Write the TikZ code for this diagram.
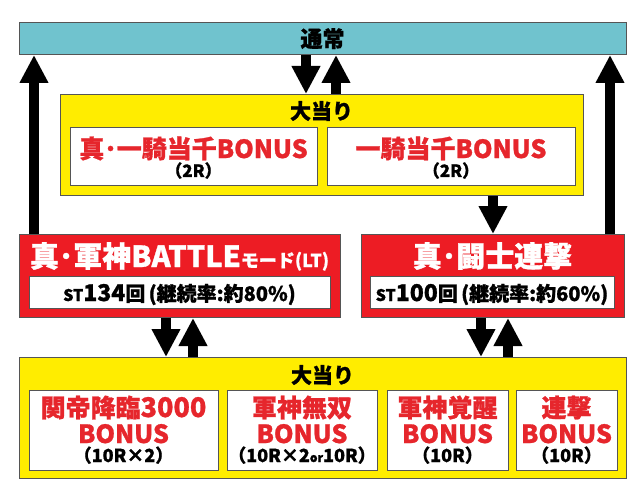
\documentclass[tikz,border=0pt]{standalone}
\usepackage{fontspec}
\newfontfamily\jp{Noto Sans CJK JP}[BoldFeatures={FakeBold=1}]
\usetikzlibrary{arrows.meta}

\definecolor{tsujocyan}{HTML}{70C3CE}
\definecolor{hityellow}{HTML}{FFED00}
\definecolor{modered}{HTML}{ED1C24}
\definecolor{bonusred}{HTML}{E6262C}
\definecolor{boxline}{HTML}{555555}

\newcommand{\fs}[1]{\fontsize{#1}{#1}\selectfont}

\begin{document}
\begin{tikzpicture}[x=1pt,y=-1pt,
  every node/.style={inner sep=0pt,font=\jp\bfseries},
  framebox/.style={draw=boxline,line width=1pt,anchor=north west},
  txt/.style={anchor=base},
  bigarrow/.style={line width=10pt,-{Triangle[width=27pt,length=28pt]}}]
\useasboundingbox (0,0) rectangle (640,500);

% normal mode
\node[framebox,fill=tsujocyan,minimum width=607pt,minimum height=32pt] (tsujo) at (19,22) {};
\node[txt] (tsujot) at (322.5,47) {\fs{22}通常};

% first jackpot
\node[framebox,fill=hityellow,minimum width=523pt,minimum height=101pt] (hitA) at (60,94) {};
\node[txt] (hitAt) at (321.5,119) {\fs{21}大当り};
\node[framebox,fill=white,minimum width=247pt,minimum height=58pt] (ikkiA) at (70,127) {};
\node[framebox,fill=white,minimum width=248pt,minimum height=58pt] (ikkiB) at (327,127) {};
\node[txt,bonusred] (ikkiAt) at (193.5,158) {\fs{25}真･一騎当千BONUS};
\node[txt] (ikkiAr) at (193.5,177) {\fs{17}（2R）};
\node[txt,bonusred] (ikkiBt) at (451,158) {\fs{25}一騎当千BONUS};
\node[txt] (ikkiBr) at (451,177) {\fs{17}（2R）};

% ST modes
\node[framebox,fill=modered,minimum width=321pt,minimum height=83pt] (battle) at (19,234) {};
\node[txt,white] (battlet) at (179.5,267) {\fs{29}真･軍神BATTLE\fs{18}モード(LT)};
\node[framebox,fill=white,minimum width=301pt,minimum height=32pt] (battlest) at (29,276) {};
\node[txt] (battlesp) at (179.5,301) {\fs{16}ST\fs{23}134\fs{20}回\,(継続率:約80\%)};

\node[framebox,fill=modered,minimum width=263pt,minimum height=83pt] (toshi) at (361,234) {};
\node[txt,white] (toshit) at (492.5,267) {\fs{29}真･闘士連撃};
\node[framebox,fill=white,minimum width=244pt,minimum height=32pt] (toshist) at (370,276) {};
\node[txt] (toshisp) at (492,301) {\fs{16}ST\fs{23}100\fs{20}回\,(継続率:約60\%)};

% second jackpot
\node[framebox,fill=hityellow,minimum width=607pt,minimum height=121pt] (hitB) at (19,357) {};
\node[txt] (hitBt) at (322.5,383) {\fs{21}大当り};
\node[framebox,fill=white,minimum width=189pt,minimum height=80pt] (kantei) at (29,390) {};
\node[framebox,fill=white,minimum width=150pt,minimum height=80pt] (muso) at (227,390) {};
\node[framebox,fill=white,minimum width=121pt,minimum height=80pt] (kakusei) at (387,390) {};
\node[framebox,fill=white,minimum width=101pt,minimum height=80pt] (rengeki) at (516,390) {};

\node[txt,bonusred] (kanteit) at (123.5,417) {\fs{25}関帝降臨\fs{27}3000};
\node[txt,bonusred] (kanteib) at (123.5,443) {\fs{25}BONUS};
\node[txt] (kanteir) at (123.5,462) {\fs{18}（10R×2）};
\node[txt,bonusred] (musot) at (302,417) {\fs{25}軍神無双};
\node[txt,bonusred] (musob) at (302,443) {\fs{25}BONUS};
\node[txt] (musor) at (302,462) {\fs{18}（10R×2\fs{12}or\fs{18}10R）};
\node[txt,bonusred] (kakuseit) at (447.5,417) {\fs{25}軍神覚醒};
\node[txt,bonusred] (kakuseib) at (447.5,443) {\fs{25}BONUS};
\node[txt] (kakuseir) at (447.5,462) {\fs{18}（10R）};
\node[txt,bonusred] (rengekit) at (566.5,417) {\fs{25}連撃};
\node[txt,bonusred] (rengekib) at (566.5,443) {\fs{25}BONUS};
\node[txt] (rengekir) at (566.5,462) {\fs{18}（10R）};

% arrows
\draw[bigarrow] ([xshift=15pt]battle.north west) -- ([xshift=15pt]battle.north west |- tsujo.south);
\draw[bigarrow] ([xshift=-15pt]toshi.north east) -- ([xshift=-15pt]toshi.north east |- tsujo.south);
\draw[bigarrow] ([xshift=-16pt]hitA.north |- tsujo.south) -- ([xshift=-16pt]hitA.north);
\draw[bigarrow] ([xshift=14pt]hitA.north) -- ([xshift=14pt]hitA.north |- tsujo.south);
\draw[bigarrow] (toshi.north |- hitA.south) -- (toshi.north);
\draw[bigarrow] ([xshift=-14pt]battle.south) -- ([xshift=-14pt]battle.south |- hitB.north);
\draw[bigarrow] ([xshift=13pt]battle.south |- hitB.north) -- ([xshift=13pt]battle.south);
\draw[bigarrow] ([xshift=-12pt]toshi.south) -- ([xshift=-12pt]toshi.south |- hitB.north);
\draw[bigarrow] ([xshift=15pt]toshi.south |- hitB.north) -- ([xshift=15pt]toshi.south);
\end{tikzpicture}
\end{document}
